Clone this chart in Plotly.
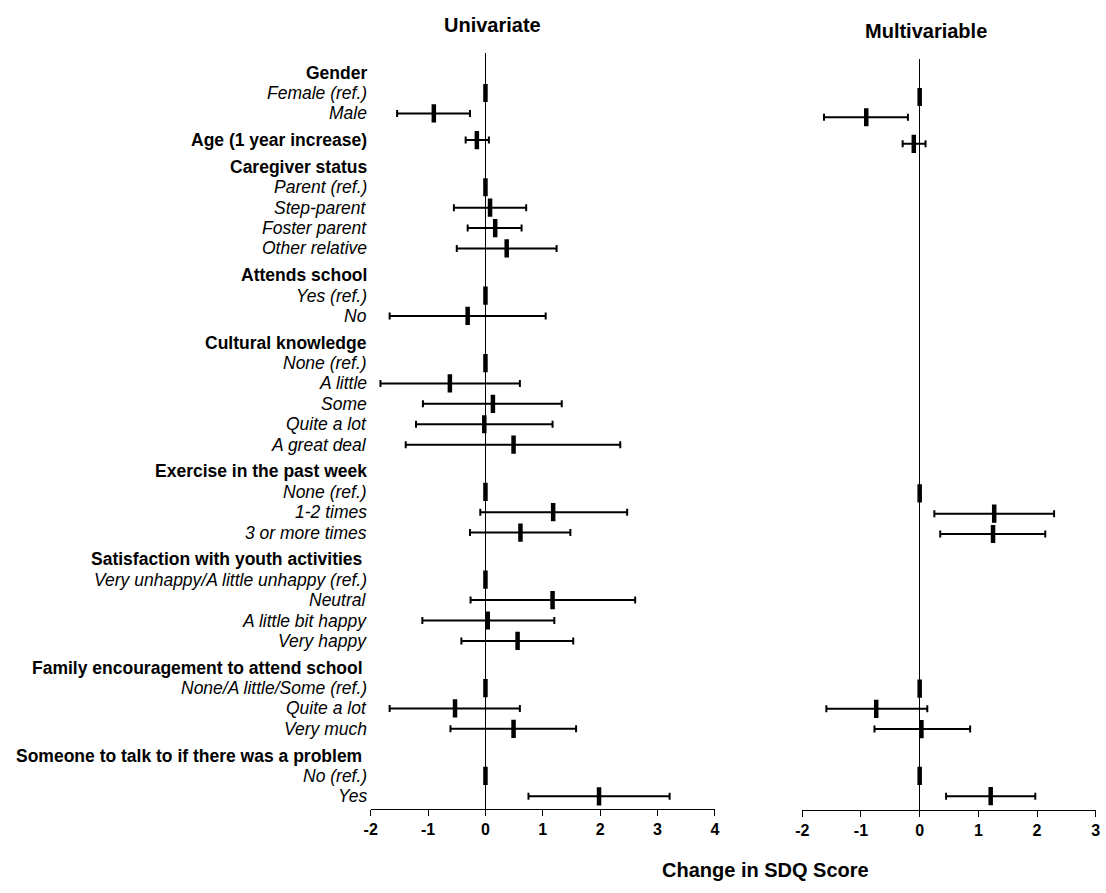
import plotly.graph_objects as go

# Row labels, top to bottom; headers are bold, levels are italic
row_labels = [
    "Gender", "Female (ref.)", "Male",
    "Age (1 year increase)",
    "Caregiver status", "Parent (ref.)", "Step-parent", "Foster parent", "Other relative",
    "Attends school", "Yes (ref.)", "No",
    "Cultural knowledge", "None (ref.)", "A little", "Some", "Quite a lot", "A great deal",
    "Exercise in the past week", "None (ref.)", "1-2 times", "3 or more times",
    "Satisfaction with youth activities\u00a0", "Very unhappy/A little unhappy (ref.)",
    "Neutral", "A little bit happy", "Very happy",
    "Family encouragement to attend school\u00a0", "None/A little/Some (ref.)",
    "Quite a lot", "Very much",
    "Someone to talk to if there was a problem\u00a0", "No (ref.)", "Yes",
]
row_is_header = [
    1, 0, 0,
    1,
    1, 0, 0, 0, 0,
    1, 0, 0,
    1, 0, 0, 0, 0, 0,
    1, 0, 0, 0,
    1, 0, 0, 0, 0,
    1, 0, 0, 0,
    1, 0, 0,
]

# Univariate estimates and 95% CI (None = no estimate / reference category)
uni_est = [None, 0, -0.90, -0.15, None, 0, 0.08, 0.17, 0.37, None, 0, -0.31,
           None, 0, -0.62, 0.13, -0.02, 0.49, None, 0, 1.18, 0.61,
           None, 0, 1.17, 0.04, 0.56, None, 0, -0.53, 0.49, None, 0, 1.98]
uni_lo = [None, None, -1.54, -0.345, None, None, -0.55, -0.31, -0.50, None, None, -1.67,
          None, None, -1.83, -1.09, -1.21, -1.39, None, None, -0.09, -0.27,
          None, None, -0.26, -1.10, -0.42, None, None, -1.67, -0.61, None, None, 0.75]
uni_hi = [None, None, -0.27, 0.06, None, None, 0.71, 0.63, 1.24, None, None, 1.05,
          None, None, 0.60, 1.33, 1.17, 2.35, None, None, 2.47, 1.48,
          None, None, 2.61, 1.20, 1.53, None, None, 0.60, 1.58, None, None, 3.21]

# Multivariable estimates and 95% CI
multi_est = [None, 0, -0.91, -0.10, None, None, None, None, None, None, None, None,
             None, None, None, None, None, None, None, 0, 1.27, 1.25,
             None, None, None, None, None, None, 0, -0.74, 0.03, None, 0, 1.21]
multi_lo = [None, None, -1.63, -0.29, None, None, None, None, None, None, None, None,
            None, None, None, None, None, None, None, None, 0.25, 0.35,
            None, None, None, None, None, None, None, -1.59, -0.77, None, None, 0.45]
multi_hi = [None, None, -0.20, 0.10, None, None, None, None, None, None, None, None,
            None, None, None, None, None, None, None, None, 2.29, 2.14,
            None, None, None, None, None, None, None, 0.13, 0.86, None, None, 1.97]

uni_ticks = ["-2", "-1", "0", "1", "2", "3", "4"]
multi_ticks = ["-2", "-1", "0", "1", "2", "3"]

FONT = "Liberation Sans, Arial, sans-serif"
W, H = 1106, 893

# Vertical row positions: one unit per row, extra space before each header
HEADER_GAP = 0.31
row_pos = []
p = 0.0
for i, h in enumerate(row_is_header):
    if i > 0:
        p += 1 + (HEADER_GAP if h else 0)
    row_pos.append(p)


def panel_traces(est, lo, hi, xa, ya):
    ci_idx = [i for i in range(len(est)) if est[i] is not None and lo[i] is not None]
    ref_idx = [i for i in range(len(est)) if est[i] is not None and lo[i] is None]
    marker = dict(symbol="line-ns", size=13, color="black",
                  line=dict(width=4.5, color="black"))
    ci = go.Scatter(
        x=[est[i] for i in ci_idx], y=[row_pos[i] for i in ci_idx],
        mode="markers", marker=marker, xaxis=xa, yaxis=ya,
        error_x=dict(type="data", symmetric=False,
                     array=[hi[i] - est[i] for i in ci_idx],
                     arrayminus=[est[i] - lo[i] for i in ci_idx],
                     color="black", thickness=2, width=3.5),
        hoverinfo="skip",
    )
    ref = go.Scatter(
        x=[est[i] for i in ref_idx], y=[row_pos[i] for i in ref_idx],
        mode="markers", marker=marker, xaxis=xa, yaxis=ya, hoverinfo="skip",
    )
    return [ci, ref]


fig = go.Figure()
for t in panel_traces(uni_est, uni_lo, uni_hi, "x", "y"):
    fig.add_trace(t)
for t in panel_traces(multi_est, multi_lo, multi_hi, "x2", "y2"):
    fig.add_trace(t)


def px_x(v):
    return v / W


def px_y(v):
    return (H - v) / H


xaxis_common = dict(
    showline=True, linecolor="black", linewidth=1,
    ticks="outside", ticklen=6, tickwidth=1, tickcolor="black",
    showgrid=False, zeroline=True, zerolinecolor="black", zerolinewidth=1,
    tickfont=dict(family=FONT, size=16, color="black", weight="bold"),
    fixedrange=True,
)

fig.update_layout(
    width=W, height=H,
    margin=dict(l=0, r=0, t=0, b=0),
    paper_bgcolor="white", plot_bgcolor="white",
    showlegend=False,
    xaxis=dict(domain=[px_x(367.7), px_x(715.7)], range=[-2, 4], anchor="y",
               tickvals=[int(t) for t in uni_ticks], ticktext=uni_ticks, **xaxis_common),
    yaxis=dict(domain=[px_y(809), px_y(53)], range=[36.1, -0.96], anchor="x",
               visible=False, fixedrange=True),
    xaxis2=dict(domain=[px_x(804), px_x(1100.7)], range=[-2, 3], anchor="y2",
                tickvals=[int(t) for t in multi_ticks], ticktext=multi_ticks, **xaxis_common),
    yaxis2=dict(domain=[px_y(810), px_y(59)], range=[36.16, -0.873], anchor="x2",
                visible=False, fixedrange=True),
)

annotations = []
for lab, hdr, pos in zip(row_labels, row_is_header, row_pos):
    txt = f"<b>{lab}</b>" if hdr else f"<i>{lab}</i>"
    annotations.append(dict(
        text=txt, xref="paper", yref="y", x=px_x(364), y=pos,
        xanchor="right", yanchor="middle", showarrow=False,
        borderpad=0, borderwidth=0,
        font=dict(family=FONT, size=17.5, color="black"),
    ))

title_font = dict(family=FONT, size=20, color="black")
annotations += [
    dict(text="<b>Univariate</b>", xref="paper", yref="paper",
         x=px_x(491), y=px_y(25), xanchor="center", yanchor="middle",
         showarrow=False, font=title_font),
    dict(text="<b>Multivariable</b>", xref="paper", yref="paper",
         x=px_x(929), y=px_y(31), xanchor="center", yanchor="middle",
         showarrow=False, font=title_font),
    dict(text="<b>Change in SDQ Score</b>", xref="paper", yref="paper",
         x=px_x(767), y=px_y(870), xanchor="center", yanchor="middle",
         showarrow=False, font=title_font),
]
fig.update_layout(annotations=annotations)

fig.write_html("out.html")
